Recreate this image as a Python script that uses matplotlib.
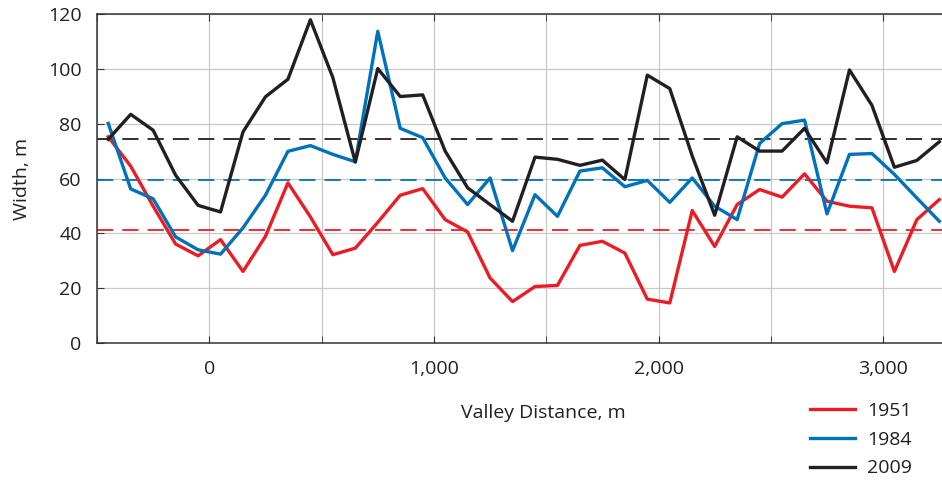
import numpy as np
import matplotlib
matplotlib.use("Agg")
import matplotlib.pyplot as plt
from matplotlib.ticker import FixedLocator, FuncFormatter

plt.rcParams['font.family'] = ['Open Sans', 'DejaVu Sans']

# valley distance (m), one sample every 100 m
distance = np.arange(-450, 3251, 100)

width_1951 = [75.2, 64.5, 49.9, 36.1, 31.8, 37.7, 26.1, 38.9, 58.4, 46.0,
              32.2, 34.6, 44.0, 53.9, 56.3, 45.0, 40.5, 23.7, 15.1, 20.6,
              21.0, 35.6, 37.1, 32.8, 16.0, 14.6, 48.3, 35.2, 50.5, 56.0,
              53.2, 61.7, 51.7, 49.9, 49.3, 26.1, 45.0, 52.3]
width_1984 = [80.1, 56.2, 52.6, 38.7, 34.0, 32.4, 42.0, 53.9, 69.9, 72.0,
              68.8, 66.1, 113.7, 78.3, 74.9, 60.2, 50.5, 60.2, 33.7, 54.1,
              46.2, 62.7, 63.9, 57.0, 59.3, 51.3, 60.2, 49.9, 45.0, 72.8,
              80.0, 81.3, 47.1, 68.8, 69.1, 61.5, 52.9, 44.4]
width_2009 = [74.3, 83.4, 77.6, 61.2, 50.2, 47.8, 77.0, 89.8, 96.2, 117.9,
              96.8, 66.0, 100.1, 89.9, 90.5, 70.0, 56.6, 50.5, 44.4, 67.8,
              67.0, 64.8, 66.7, 59.6, 97.7, 92.8, 68.2, 46.6, 75.2, 70.0,
              70.0, 78.3, 65.7, 99.6, 86.7, 64.1, 66.6, 73.4]

years = ['1951', '1984', '2009']
colors = ['#ed1c24', '#0072bc', '#231f20']
series = [width_1951, width_1984, width_2009]

fig = plt.figure(figsize=(9.42, 4.80), dpi=100)
ax = fig.add_axes([97 / 942, 137 / 480, 845 / 942, 329 / 480])

# long-term mean for each year as a dashed reference line
for vals, c in zip(series, colors):
    ax.axhline(np.mean(vals), color=c, lw=1.3, dashes=(9, 5), zorder=2)

handles = []
for vals, c, yr in zip(series, colors, years):
    h, = ax.plot(distance, vals, color=c, lw=2.4, label=yr, zorder=3)
    handles.append(h)

ax.set_xlim(-500, 3262)
ax.set_ylim(0, 120)
ax.xaxis.set_major_locator(FixedLocator([0, 1000, 2000, 3000]))
ax.xaxis.set_minor_locator(FixedLocator([-500, 500, 1500, 2500]))
ax.xaxis.set_major_formatter(FuncFormatter(lambda v, p: f'{int(v):,}'))
ax.set_yticks(range(0, 121, 20))

ax.grid(True, which='both', color='#c8c8c8', lw=0.9, zorder=0)
ax.set_axisbelow(True)
ax.tick_params(axis='both', which='both', direction='in', length=5,
               color='#333333', labelsize=14, labelcolor='#231f20',
               top=True)
ax.tick_params(axis='x', pad=12)
ax.tick_params(axis='y', pad=11)
for s in ['left', 'top', 'bottom']:
    ax.spines[s].set_color('#333333')
    ax.spines[s].set_linewidth(1.1)
ax.spines['right'].set_visible(False)

ax.set_ylabel('Width, m', fontsize=14, color='#231f20', labelpad=12)
fig.text(543 / 942, 1 - 413 / 480, 'Valley Distance, m', fontsize=14,
         color='#231f20', ha='center', va='center')

fig.legend(handles=handles, loc='upper left',
           bbox_to_anchor=(810 / 942, 1 - 402 / 480), frameon=False,
           fontsize=14, handlelength=2.3, handletextpad=0.65,
           labelspacing=0.55, borderpad=0, borderaxespad=0,
           labelcolor='#231f20')

fig.savefig('out.png', dpi=100)
